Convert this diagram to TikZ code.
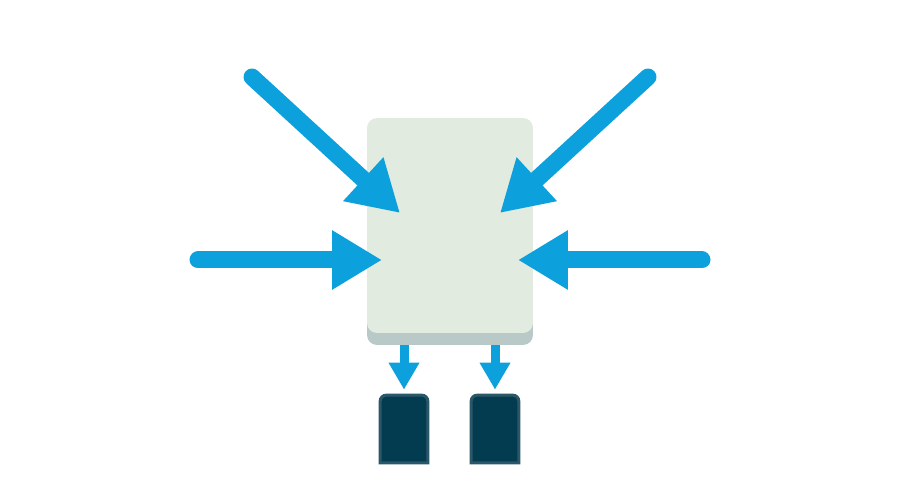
\documentclass[tikz,border=0pt]{standalone}
\usetikzlibrary{arrows.meta,shadows}
\definecolor{flowblue}{RGB}{12,161,220}
\definecolor{hubfill}{RGB}{226,235,224}
\definecolor{hubshade}{RGB}{185,201,200}
\definecolor{sinkfill}{RGB}{3,59,80}
\definecolor{sinkrim}{RGB}{43,88,104}

\begin{document}
\begin{tikzpicture}[x=0.02cm,y=-0.02cm,every node/.style = {shape=rectangle, inner sep=0pt}]
	\tikzset{
		hub/.style = { fill=hubfill, rounded corners=0.2cm, minimum width=3.32cm, minimum height=4.3cm,
			general shadow={fill=hubshade, shadow yshift=-0.24cm} },
		sink/.style = { minimum width=0.94cm, minimum height=1.34cm },
		sinkbody/.style = { fill=sinkfill, draw=sinkrim, line width=0.06cm },
		feed/.style = { draw=flowblue, line width=0.34cm, line cap=round, -{Triangle[length=1cm,width=1.12cm]} },
		drop/.style = { draw=flowblue, line width=0.18cm, -{Triangle[length=0.54cm,width=0.58cm]} },
	}
	\useasboundingbox (0,0) rectangle (900,502);
	\node[hub] (hub) at (450,225.5) {};
	\node[sink] (outA) at (404,429) {};
	\node[sink] (outB) at (495,429) {};
	\foreach \s in {outA,outB}
		\draw[sinkbody] (\s.south west) [rounded corners=0.12cm] -- (\s.north west) -- (\s.north east) [sharp corners] -- (\s.south east) -- cycle;
	\coordinate (srcW) at (198,260);
	\coordinate (srcE) at (702,260);
	\coordinate (srcNW) at (252,77);
	\coordinate (srcNE) at (648,77);
	\coordinate (inW) at (382,260);
	\coordinate (inE) at (518,260);
	\coordinate (inNW) at (400,213);
	\coordinate (inNE) at (500,213);
	\draw[feed] (srcNW) -- (inNW);
	\draw[feed] (srcNE) -- (inNE);
	\draw[feed] (srcW) -- (inW);
	\draw[feed] (srcE) -- (inE);
	\draw[drop, shorten <=0.24cm, shorten >=0.11cm] (hub.south -| outA.north) -- (outA.north);
	\draw[drop, shorten <=0.24cm, shorten >=0.11cm] (hub.south -| outB.north) -- (outB.north);
\end{tikzpicture}
\end{document}
